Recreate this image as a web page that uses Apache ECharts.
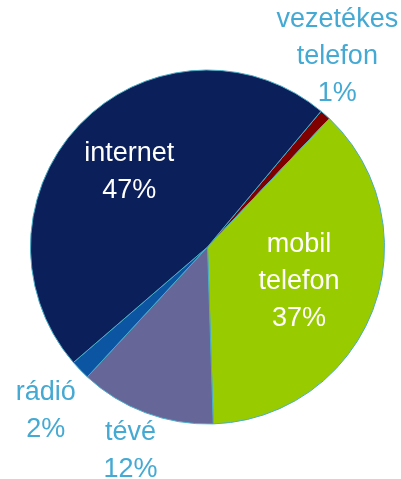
<!DOCTYPE html>
<html>
<head>
<meta charset="utf-8">
<script src="https://cdn.jsdelivr.net/npm/echarts@6/dist/echarts.min.js"></script>
<style>html,body{margin:0;padding:0;background:#fff}#c{width:401px;height:479px}</style>
</head>
<body>
<div id="c"></div>
<script>
// Data (clockwise from the internet / vezetékes telefon boundary)
const categories = ['vezetékes\ntelefon', 'mobil\ntelefon', 'tévé', 'rádió', 'internet'];
const values = [1.0, 37.4, 12.4, 1.8, 47.4];
const percentLabels = ['1%', '37%', '12%', '2%', '47%'];

// Styles
const colors = ['#800000', '#99cc00', '#666699', '#0b55a3', '#0b1f5a'];
const textColors = ['#44a9d3', '#ffffff', '#44a9d3', '#44a9d3', '#ffffff'];
const labelOffsets = [[69, -122], [6, 2], [-45, 118], [-96, 101], [-13, -11]];

const chart = echarts.init(document.getElementById('c'), null, {renderer: 'canvas'});
chart.setOption({
  animation: false,
  series: [{
    type: 'pie',
    center: [207.5, 247],
    radius: 177,
    startAngle: 50.1,
    clockwise: true,
    avoidLabelOverlap: false,
    emphasis: {disabled: true},
    itemStyle: {borderColor: '#4bacc6', borderWidth: 1},
    labelLine: {show: false},
    data: categories.map((name, i) => ({
      name: name,
      value: values[i],
      itemStyle: {color: colors[i]},
      label: {
        show: true,
        position: 'inside',
        offset: labelOffsets[i],
        color: textColors[i],
        fontFamily: 'Liberation Sans, Arial, sans-serif',
        fontSize: 27,
        lineHeight: 37,
        align: 'center',
        formatter: () => name + '\n' + percentLabels[i]
      }
    }))
  }]
});
</script>
</body>
</html>
